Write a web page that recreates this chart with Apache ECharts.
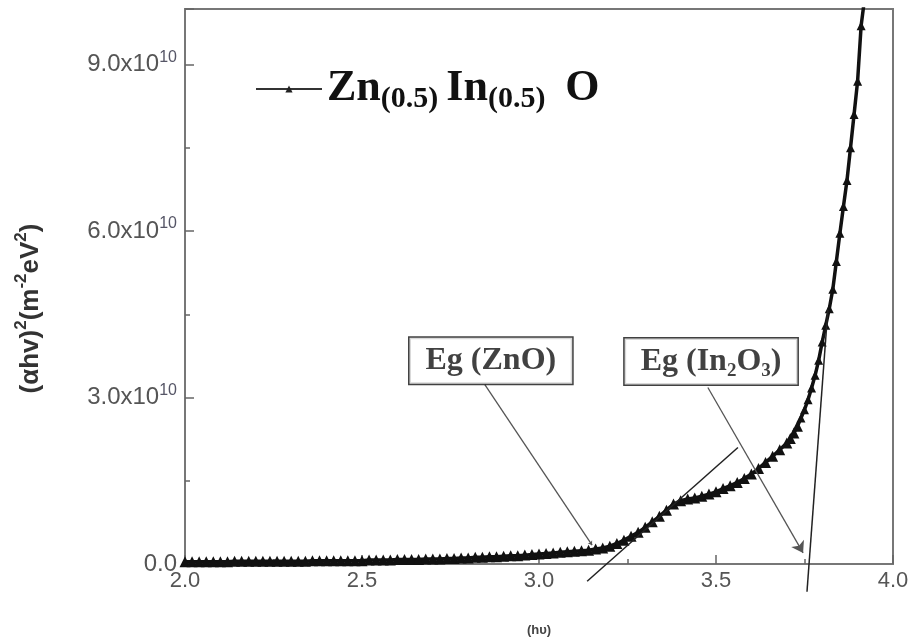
<!DOCTYPE html>
<html>
<head>
<meta charset="utf-8">
<script src="https://cdn.jsdelivr.net/npm/echarts@6/dist/echarts.min.js"></script>
<style>
  html, body { margin: 0; padding: 0; background: #fff; }
  #chart { width: 917px; height: 644px; }
</style>
</head>
<body>
<div id="chart"></div>
<script>
// photon energy (eV) and (alpha h nu)^2 in units of 1e10 m^-2 eV^2
var energy = [
  2.00, 2.02, 2.04, 2.06, 2.08, 2.10, 2.12, 2.14, 2.16, 2.18,
  2.20, 2.22, 2.24, 2.26, 2.28, 2.30, 2.32, 2.34, 2.36, 2.38,
  2.40, 2.42, 2.44, 2.46, 2.48, 2.50, 2.52, 2.54, 2.56, 2.58,
  2.60, 2.62, 2.64, 2.66, 2.68, 2.70, 2.72, 2.74, 2.76, 2.78,
  2.80, 2.82, 2.84, 2.86, 2.88, 2.90, 2.92, 2.94, 2.96, 2.98,
  3.00, 3.02, 3.04, 3.06, 3.08, 3.10, 3.12, 3.14, 3.16, 3.18,
  3.20, 3.22, 3.24, 3.26, 3.28, 3.30, 3.32, 3.34, 3.36, 3.38,
  3.40, 3.42, 3.44, 3.46, 3.48, 3.50, 3.52, 3.54, 3.56, 3.58,
  3.60, 3.62, 3.64, 3.66, 3.68, 3.70, 3.71, 3.72, 3.73, 3.74,
  3.75, 3.76, 3.77, 3.78, 3.79, 3.80, 3.81, 3.82, 3.83, 3.84,
  3.85, 3.86, 3.87, 3.88, 3.89, 3.90, 3.91, 3.92
];
var absSq = [
  0.04, 0.04, 0.04, 0.04, 0.04, 0.04, 0.04, 0.05, 0.05, 0.05,
  0.05, 0.05, 0.05, 0.05, 0.05, 0.05, 0.05, 0.05, 0.06, 0.06,
  0.06, 0.06, 0.06, 0.06, 0.06, 0.06, 0.07, 0.07, 0.07, 0.07,
  0.08, 0.08, 0.08, 0.08, 0.09, 0.09, 0.09, 0.10, 0.10, 0.11,
  0.11, 0.12, 0.12, 0.13, 0.13, 0.14, 0.15, 0.15, 0.16, 0.17,
  0.18, 0.19, 0.20, 0.21, 0.22, 0.23, 0.24, 0.25, 0.27, 0.29,
  0.32, 0.37, 0.43, 0.50, 0.57, 0.66, 0.76, 0.86, 0.97, 1.08,
  1.14, 1.17, 1.19, 1.22, 1.26, 1.30, 1.36, 1.41, 1.47, 1.54,
  1.62, 1.72, 1.83, 1.94, 2.06, 2.18, 2.26, 2.36, 2.48, 2.63,
  2.78, 2.96, 3.17, 3.40, 3.67, 4.00, 4.30, 4.60, 4.95, 5.45,
  5.96, 6.44, 6.91, 7.50, 8.10, 8.70, 9.70, 10.2
];

// tangent lines (extrapolated edges)
var tangentZnO = [[3.136, -0.31], [3.562, 2.10]];
var tangentIn2O3 = [[3.757, -0.50], [3.816, 4.58]];

// annotation boxes and pointer lines
var boxZnO = [2.864, 3.66];
var boxIn2O3 = [3.486, 3.65];
var pointerZnO = [[2.847, 3.23], [3.15, 0.34]];
var pointerIn2O3 = [[3.477, 3.18], [3.746, 0.20]];

var seriesName = 'Zn(0.5) In(0.5) O';

var myChart = echarts.init(document.getElementById('chart'));

function pairs(xs, ys) {
    return xs.map(function (x, i) { return [x, ys[i]]; });
}

var serif = '"Liberation Serif", "Times New Roman", serif';
var sans = '"Liberation Sans", Arial, sans-serif';

var option = {
    animation: false,
    backgroundColor: '#fff',
    grid: {
        left: 185,
        right: 24,
        top: 9,
        bottom: 80,
        show: true,
        borderColor: '#777',
        borderWidth: 2
    },
    legend: {
        data: [seriesName],
        left: 250,
        top: 62,
        itemWidth: 66,
        itemHeight: 9,
        itemGap: 0,
        itemStyle: { color: '#222' },
        lineStyle: { color: '#333', width: 2 },
        formatter: function () {
            return '{b|Zn}{s|(0.5)}{g|  }{b|In}{s|(0.5)}{g|     }{b|O}';
        },
        textStyle: {
            rich: {
                b: { fontFamily: serif, fontWeight: 'bold', fontSize: 44, color: '#111', lineHeight: 50 },
                s: { fontFamily: serif, fontWeight: 'bold', fontSize: 30, color: '#111', lineHeight: 26, verticalAlign: 'bottom' },
                g: { fontFamily: serif, fontSize: 16, lineHeight: 50 }
            }
        }
    },
    xAxis: {
        type: 'value',
        min: 2,
        max: 4,
        interval: 0.5,
        name: '(hυ)',
        nameLocation: 'middle',
        nameGap: 60,
        nameTextStyle: { fontFamily: sans, fontSize: 13, fontWeight: 'bold', color: '#444' },
        axisLine: { show: true, onZero: false, lineStyle: { color: '#777', width: 2 } },
        axisTick: { show: true, inside: true, length: 9, lineStyle: { color: '#666', width: 1.5 } },
        minorTick: { show: true, splitNumber: 2, length: 5, lineStyle: { color: '#666', width: 1.5 } },
        splitLine: { show: false },
        axisLabel: {
            fontFamily: sans, fontSize: 22, color: '#555', margin: 6,
            formatter: function (v) { return v.toFixed(1); }
        }
    },
    yAxis: {
        type: 'value',
        min: 0,
        max: 10,
        interval: 3,
        name: '(αhv){s|2}(m{s|-2}eV{s|2})',
        nameLocation: 'middle',
        nameGap: 136,
        nameRotate: 90,
        nameTextStyle: {
            fontFamily: sans, fontSize: 26, fontWeight: 'bold', color: '#333', lineHeight: 36,
            padding: [0, 44, 0, 0],
            rich: {
                s: { fontFamily: sans, fontSize: 17, fontWeight: 'bold', color: '#333', lineHeight: 16, verticalAlign: 'top' }
            }
        },
        axisLine: { show: true, lineStyle: { color: '#777', width: 2 } },
        axisTick: { show: true, inside: true, length: 9, lineStyle: { color: '#666', width: 1.5 } },
        minorTick: { show: true, splitNumber: 2, length: 5, lineStyle: { color: '#666', width: 1.5 } },
        splitLine: { show: false },
        axisLabel: {
            margin: 8,
            formatter: function (v) {
                if (v === 0) return '{a|0.0}';
                if (v % 3 !== 0 || v > 9) return '';
                return '{a|' + v.toFixed(1) + 'x10}{s|10}';
            },
            rich: {
                a: { fontFamily: sans, fontSize: 24, color: '#555', lineHeight: 30 },
                s: { fontFamily: sans, fontSize: 16, color: '#556', lineHeight: 16, verticalAlign: 'top' }
            }
        }
    },
    series: [
        {
            name: seriesName,
            type: 'line',
            data: pairs(energy, absSq),
            symbol: 'triangle',
            // the dense low part of the curve reads as a thick band
            symbolSize: function (v) { return v[1] < 2.5 ? 11 : 9; },
            showAllSymbol: true,
            lineStyle: { color: '#111', width: 3.5 },
            itemStyle: { color: '#111' },
            z: 3
        },
        {
            name: 'tangent ZnO',
            type: 'line',
            data: tangentZnO,
            showSymbol: false,
            clip: false,
            lineStyle: { color: '#222', width: 1.5 },
            z: 4
        },
        {
            name: 'tangent In2O3',
            type: 'line',
            data: tangentIn2O3,
            showSymbol: false,
            clip: false,
            lineStyle: { color: '#222', width: 1.5 },
            z: 4
        },
        {
            name: 'pointers',
            type: 'line',
            data: [],
            markLine: {
                silent: true,
                symbol: ['none', 'arrow'],
                label: { show: false },
                lineStyle: { color: '#555', width: 1.3, type: 'solid' },
                data: [
                    [{ coord: pointerZnO[0], symbolSize: 0 }, { coord: pointerZnO[1], symbolSize: 4 }],
                    [{ coord: pointerIn2O3[0], symbolSize: 0 }, { coord: pointerIn2O3[1], symbolSize: 11 }]
                ]
            }
        },
        {
            name: 'labels',
            type: 'scatter',
            symbolSize: 0,
            silent: true,
            data: [
                { value: boxZnO, name: 'ZnO' },
                { value: boxIn2O3, name: 'In2O3' }
            ],
            label: {
                show: true,
                position: 'inside',
                backgroundColor: '#fff',
                borderColor: '#111',
                borderWidth: 1.5,
                padding: [4, 16, 4, 16],
                formatter: function (p) {
                    if (p.name === 'ZnO') return '{t|Eg (ZnO)}';
                    return '{t|Eg (In}{u|2}{t|O}{u|3}{t|)}';
                },
                rich: {
                    t: { fontFamily: serif, fontWeight: 'bold', fontSize: 32, color: '#111', lineHeight: 38 },
                    u: { fontFamily: serif, fontWeight: 'bold', fontSize: 19, color: '#111', lineHeight: 28, verticalAlign: 'bottom' }
                }
            },
            z: 5
        }
    ]
};
myChart.setOption(option);
</script>
</body>
</html>
